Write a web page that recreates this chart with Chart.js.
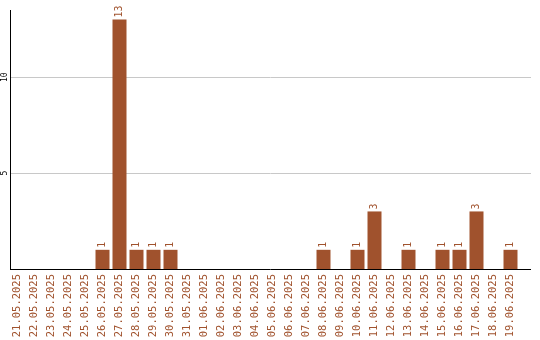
<!DOCTYPE html>
<html>
<head>
<meta charset="utf-8">
<script src="https://cdn.jsdelivr.net/npm/chart.js@4/dist/chart.umd.min.js"></script>
<style>
  html, body { margin: 0; padding: 0; background: #fff; }
  canvas { display: block; }
</style>
</head>
<body>
<canvas id="chart" width="540" height="340"></canvas>
<script>
// dates and counts
const days = [
  "21.05.2025", "22.05.2025", "23.05.2025", "24.05.2025", "25.05.2025",
  "26.05.2025", "27.05.2025", "28.05.2025", "29.05.2025", "30.05.2025",
  "31.05.2025", "01.06.2025", "02.06.2025", "03.06.2025", "04.06.2025",
  "05.06.2025", "06.06.2025", "07.06.2025", "08.06.2025", "09.06.2025",
  "10.06.2025", "11.06.2025", "12.06.2025", "13.06.2025", "14.06.2025",
  "15.06.2025", "16.06.2025", "17.06.2025", "18.06.2025", "19.06.2025"
];
const counts = [
  0, 0, 0, 0, 0,
  1, 13, 1, 1, 1,
  0, 0, 0, 0, 0,
  0, 0, 0, 1, 0,
  1, 3, 0, 1, 0,
  1, 1, 3, 0, 1
];
const yTicks = [5, 10];

const brown = "#a0522d";
const mono = "'DejaVu Sans Mono', monospace";

// grid, axis lines, y labels and value labels
const extras = {
  id: "extras",
  beforeDatasetsDraw(chart) {
    const ctx = chart.ctx;
    const y = chart.scales.y;
    ctx.save();
    ctx.strokeStyle = "#c8c8c8";
    ctx.lineWidth = 1;
    y.ticks.forEach((t) => {
      const py = Math.round(y.getPixelForValue(t.value)) + 0.5;
      ctx.beginPath();
      ctx.moveTo(10, py);
      ctx.lineTo(531, py);
      ctx.stroke();
    });
    // y tick labels, turned
    ctx.fillStyle = "#000";
    ctx.font = "8px " + mono;
    ctx.textAlign = "center";
    ctx.textBaseline = "middle";
    y.ticks.forEach((t) => {
      ctx.save();
      ctx.translate(5, y.getPixelForValue(t.value));
      ctx.rotate(-Math.PI / 2);
      ctx.fillText(String(t.value), 0, 0);
      ctx.restore();
    });
    ctx.restore();
  },
  afterDatasetsDraw(chart) {
    const ctx = chart.ctx;
    const area = chart.chartArea;
    const meta = chart.getDatasetMeta(0);
    ctx.save();
    ctx.strokeStyle = "#000";
    ctx.lineWidth = 1;
    ctx.beginPath();
    ctx.moveTo(10.5, area.top);
    ctx.lineTo(10.5, area.bottom + 1);
    ctx.moveTo(10, area.bottom + 0.5);
    ctx.lineTo(531, area.bottom + 0.5);
    ctx.stroke();

    ctx.fillStyle = brown;
    ctx.font = "10px " + mono;
    ctx.textAlign = "left";
    ctx.textBaseline = "middle";
    meta.data.forEach((bar, i) => {
      if (!counts[i]) return;
      ctx.save();
      ctx.translate(bar.x, bar.y - 2);
      ctx.rotate(-Math.PI / 2);
      ctx.fillText(String(counts[i]), 0, 0);
      ctx.restore();
    });
    ctx.restore();
  }
};

new Chart(document.getElementById("chart"), {
  type: "bar",
  data: {
    labels: days,
    datasets: [{
      data: counts,
      backgroundColor: brown,
      borderWidth: 0,
      categoryPercentage: 1,
      barPercentage: 14 / 17
    }]
  },
  options: {
    responsive: false,
    animation: false,
    layout: { padding: { top: 10, right: 21, bottom: 0, left: 0 } },
    plugins: { legend: { display: false }, tooltip: { enabled: false } },
    scales: {
      x: {
        grid: { display: false, drawTicks: false },
        border: { display: false },
        ticks: {
          color: brown,
          font: { family: mono, size: 10.5 },
          minRotation: 90,
          maxRotation: 90,
          autoSkip: false,
          padding: 5
        },
        afterFit: (s) => { s.height = 71; }
      },
      y: {
        min: 0,
        max: 13.5,
        grid: { display: false, drawTicks: false },
        border: { display: false },
        ticks: { display: false, stepSize: 5 },
        afterBuildTicks: (s) => {
          s.ticks = yTicks.map((v) => ({ value: v }));
        },
        afterFit: (s) => { s.width = 9; }
      }
    }
  },
  plugins: [extras]
});
</script>
</body>
</html>
